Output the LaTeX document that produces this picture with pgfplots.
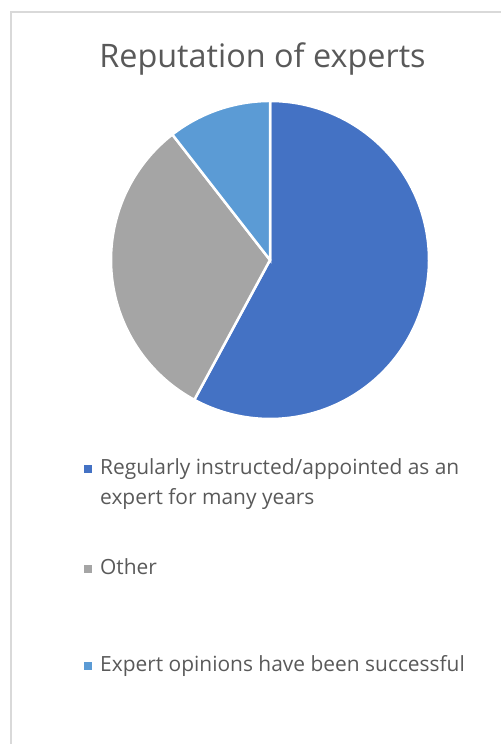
\documentclass[border=0pt]{standalone}
\usepackage{pgfplots}
\pgfplotsset{compat=1.18}
\usepackage{fontspec}
\setmainfont{Open Sans}
\definecolor{cA}{HTML}{4472C4}
\definecolor{cB}{HTML}{A5A5A5}
\definecolor{cC}{HTML}{5B9BD5}
\definecolor{txt}{HTML}{595959}
\definecolor{frm}{HTML}{D9D9D9}
% pie values (counts)
\def\vA{11}% Regularly instructed/appointed as an expert for many years
\def\vB{6}%  Other
\def\vC{2}%  Expert opinions have been successful
\pgfmathsetmacro{\tot}{\vA+\vB+\vC}
\pgfmathsetmacro{\aA}{90}
\pgfmathsetmacro{\aB}{90-360*\vA/\tot}
\pgfmathsetmacro{\aC}{\aB-360*\vB/\tot}
\pgfmathsetmacro{\aD}{\aC-360*\vC/\tot}
\def\cx{270}\def\cy{484}\def\rr{159}
\begin{document}
\begin{tikzpicture}[x=1bp,y=1bp]
\useasboundingbox (0,0) rectangle (501,744);
\clip (0,0) rectangle (501,744);
\draw[frm, line width=1.5bp] (11,-5) -- (11,732) -- (510,732);
\begin{axis}[at={(0,0)}, anchor=south west, width=501bp, height=744bp,
  scale only axis, xmin=0, xmax=501, ymin=0, ymax=744, hide axis, clip=false]
\addplot[fill=cA, draw=white, line width=2.5bp, domain=\aB:\aA, samples=160, variable=\t]
  ({\cx+\rr*cos(\t)},{\cy+\rr*sin(\t)}) -- (axis cs:\cx,\cy) -- cycle;
\addplot[fill=cB, draw=white, line width=2.5bp, domain=\aC:\aB, samples=100, variable=\t]
  ({\cx+\rr*cos(\t)},{\cy+\rr*sin(\t)}) -- (axis cs:\cx,\cy) -- cycle;
\addplot[fill=cC, draw=white, line width=2.5bp, domain=\aD:\aC, samples=50, variable=\t]
  ({\cx+\rr*cos(\t)},{\cy+\rr*sin(\t)}) -- (axis cs:\cx,\cy) -- cycle;
\end{axis}
\node[anchor=base, txt, font=\fontsize{32.5}{36}\selectfont, inner sep=0] at (262.5,676) {Reputation of experts};
\begin{scope}[every node/.style={anchor=base west, txt, inner sep=0, font=\fontsize{21}{26}\selectfont}]
\fill[cA] (84,271) rectangle (92,279);
\node at (100,269) {Regularly instructed/appointed as an};
\node at (100,239) {expert for many years};
\fill[cB] (84,171) rectangle (92,179);
\node at (100,169) {Other};
\fill[cC] (84,74) rectangle (92,82);
\node at (100,72) {Expert opinions have been successful};
\end{scope}
\end{tikzpicture}
\end{document}
